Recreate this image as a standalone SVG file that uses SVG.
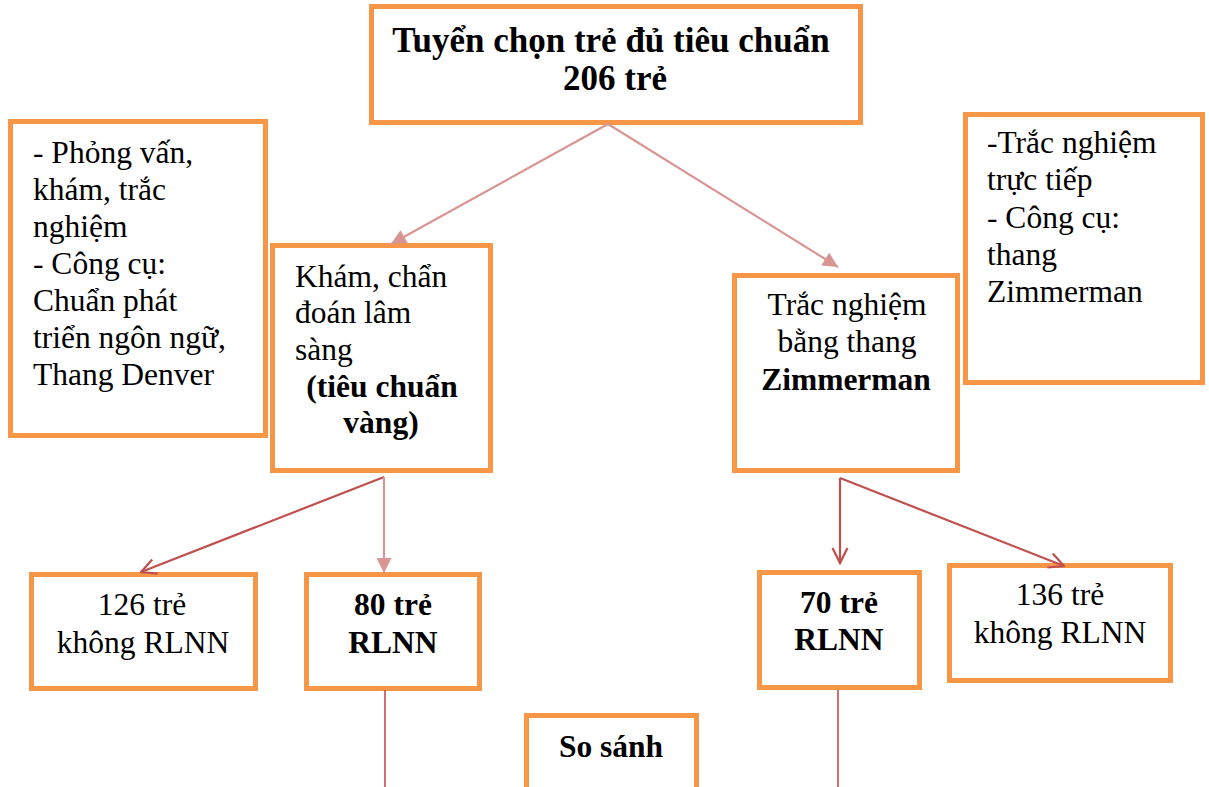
<svg xmlns="http://www.w3.org/2000/svg" width="1209" height="787" viewBox="0 0 1209 787">
  <style>
    .box { fill: #ffffff; stroke: #F79646; stroke-width: 5; }
    .t { font-size: 31.5px; fill: #000000; }
    .b { font-weight: bold; }
    .title { font-size: 35px; }
    .mid { text-anchor: middle; }
    .pink { stroke: #D99594; stroke-width: 2.2; fill: none; }
    .red { stroke: #C0504D; stroke-width: 2.2; fill: none; }
    .thin { stroke: #C0504D; stroke-width: 1.6; fill: none; }
  </style>
  <defs>
    <marker id="tri" viewBox="0 0 10 10" refX="10" refY="5" markerWidth="16" markerHeight="15" markerUnits="userSpaceOnUse" orient="auto">
      <path d="M0,0 L10,5 L0,10 z" fill="#D99594"/>
    </marker>
    <marker id="vee" viewBox="0 0 12 12" refX="11" refY="6" markerWidth="18" markerHeight="18" markerUnits="userSpaceOnUse" orient="auto">
      <path d="M1,1 L11,6 L1,11" fill="none" stroke="#C0504D" stroke-width="1.5"/>
    </marker>
  </defs>
  <rect width="1209" height="787" fill="#ffffff"/>

  <g font-family="Liberation Serif, Times New Roman, serif">
    <!-- top: selection -->
    <g id="node-selection">
      <rect class="box" x="371.5" y="6.5" width="489" height="116"/>
      <text class="t b title mid" x="611" y="52">Tuyển chọn trẻ đủ tiêu chuẩn</text>
      <text class="t b title mid" x="615" y="90">206 trẻ</text>
    </g>

    <!-- left note -->
    <g id="node-method-left">
      <rect class="box" x="10.5" y="121.5" width="255" height="314"/>
      <text class="t" x="33" y="163">- Phỏng vấn,</text>
      <text class="t" x="33" y="200">khám, trắc</text>
      <text class="t" x="33" y="237">nghiệm</text>
      <text class="t" x="33" y="274">- Công cụ:</text>
      <text class="t" x="33" y="311">Chuẩn phát</text>
      <text class="t" x="33" y="348">triển ngôn ngữ,</text>
      <text class="t" x="33" y="385">Thang Denver</text>
    </g>

    <!-- clinical diagnosis -->
    <g id="node-clinical">
      <rect class="box" x="272.5" y="245.5" width="218" height="225"/>
      <text class="t" x="295" y="287">Khám, chẩn</text>
      <text class="t" x="295" y="323">đoán lâm</text>
      <text class="t" x="295" y="360">sàng</text>
      <text class="t b mid" x="382" y="397">(tiêu chuẩn</text>
      <text class="t b mid" x="381" y="433">vàng)</text>
    </g>

    <!-- Zimmerman test -->
    <g id="node-zimmerman">
      <rect class="box" x="734.5" y="275.5" width="223" height="195"/>
      <text class="t mid" x="847" y="315">Trắc nghiệm</text>
      <text class="t mid" x="847" y="352">bằng thang</text>
      <text class="t b mid" x="846" y="390">Zimmerman</text>
    </g>

    <!-- right note -->
    <g id="node-method-right">
      <rect class="box" x="965.5" y="114.5" width="237" height="268"/>
      <text class="t" x="987" y="153">-Trắc nghiệm</text>
      <text class="t" x="987" y="190">trực tiếp</text>
      <text class="t" x="987" y="228">- Công cụ:</text>
      <text class="t" x="987" y="265">thang</text>
      <text class="t" x="987" y="302">Zimmerman</text>
    </g>

    <!-- outcomes -->
    <g id="node-clin-neg">
      <rect class="box" x="31.5" y="574.5" width="224" height="114"/>
      <text class="t mid" x="142" y="615">126 trẻ</text>
      <text class="t mid" x="143" y="653">không RLNN</text>
    </g>
    <g id="node-clin-pos">
      <rect class="box" x="306.5" y="574.5" width="173" height="114"/>
      <text class="t b mid" x="393" y="615">80 trẻ</text>
      <text class="t b mid" x="393" y="653">RLNN</text>
    </g>
    <g id="node-zim-pos">
      <rect class="box" x="759.5" y="572.5" width="160" height="115"/>
      <text class="t b mid" x="839" y="613">70 trẻ</text>
      <text class="t b mid" x="839" y="650">RLNN</text>
    </g>
    <g id="node-zim-neg">
      <rect class="box" x="949.5" y="565.5" width="221" height="115"/>
      <text class="t mid" x="1060" y="605">136 trẻ</text>
      <text class="t mid" x="1060" y="643">không RLNN</text>
    </g>
    <g id="node-compare">
      <rect class="box" x="526.5" y="715.5" width="170" height="80"/>
      <text class="t b mid" x="611" y="757">So sánh</text>
    </g>
  </g>

  <!-- connectors -->
  <g id="connectors">
    <path class="pink" d="M608,124 L391,244" marker-end="url(#tri)"/>
    <path class="pink" d="M608,124 L838,267" marker-end="url(#tri)"/>
    <path class="red" d="M384,477 L141,572" marker-end="url(#vee)"/>
    <path class="pink" d="M384,477 L384,573" marker-end="url(#tri)"/>
    <path class="red" d="M840,478 L840,563" marker-end="url(#vee)"/>
    <path class="red" d="M840,478 L1064,566" marker-end="url(#vee)"/>
    <path class="thin" d="M385,690 L385,787"/>
    <path class="thin" d="M838,690 L838,787"/>
  </g>
</svg>
